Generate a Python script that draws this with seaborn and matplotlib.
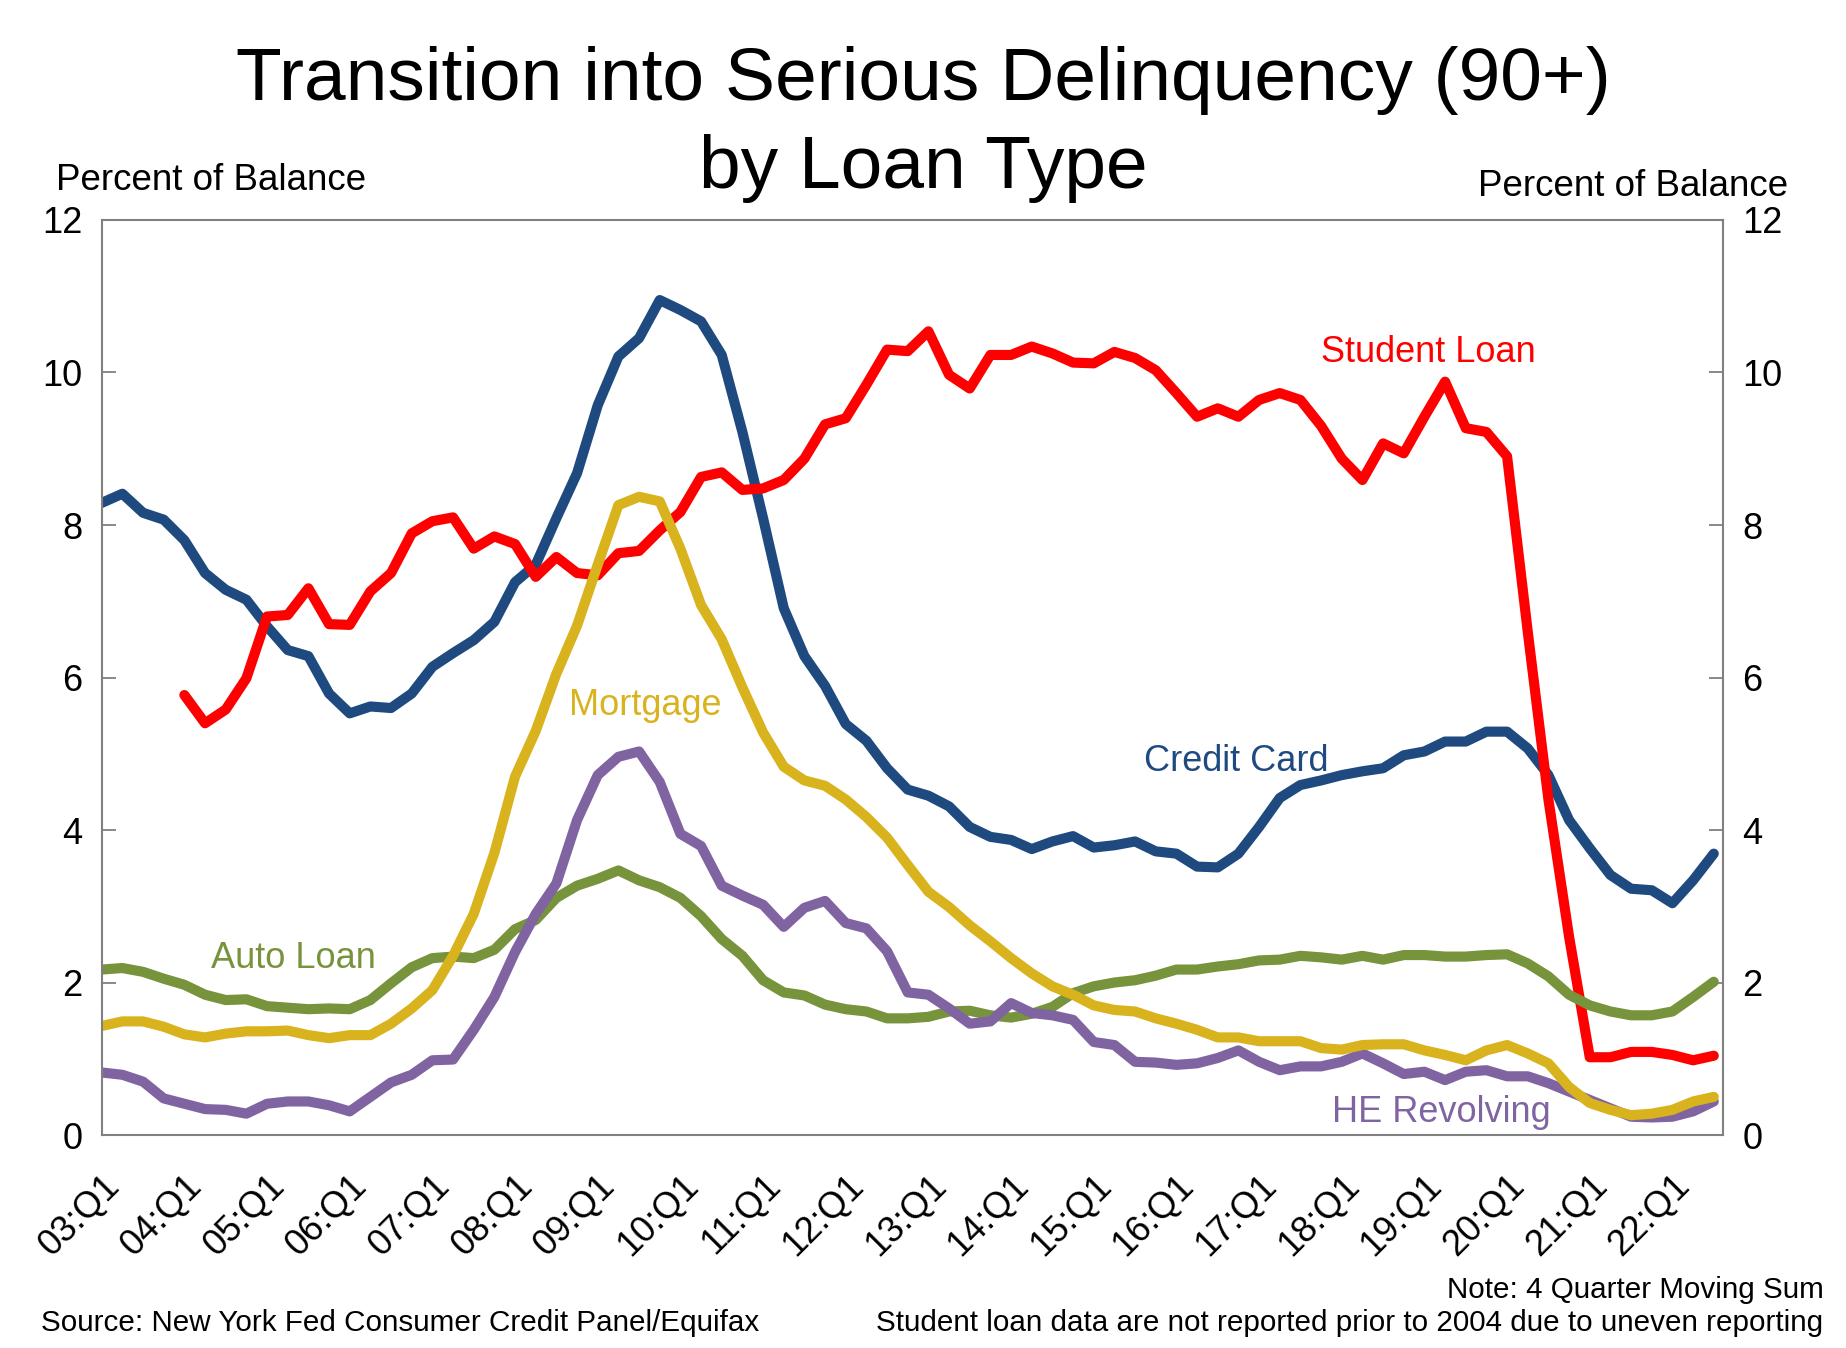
import matplotlib
matplotlib.use("Agg")
import matplotlib.pyplot as plt
import numpy as np
import pandas as pd
import seaborn as sns

# quarters 03:Q1 .. 22:Q3
quarters = [f"{y:02d}:Q{q}" for y in range(3, 23) for q in range(1, 5)][:79]

credit_card = [8.29, 8.41, 8.16, 8.07, 7.80, 7.37, 7.15, 7.02, 6.67, 6.36,
               6.28, 5.79, 5.53, 5.62, 5.60, 5.79, 6.14, 6.32, 6.49, 6.73,
               7.25, 7.48, 8.09, 8.68, 9.57, 10.21, 10.45, 10.95, 10.82, 10.67,
               10.23, 9.22, 8.09, 6.91, 6.28, 5.89, 5.39, 5.17, 4.81, 4.53,
               4.45, 4.31, 4.04, 3.91, 3.87, 3.75, 3.85, 3.92, 3.77, 3.80,
               3.85, 3.72, 3.69, 3.52, 3.51, 3.69, 4.04, 4.42, 4.59, 4.65,
               4.72, 4.77, 4.81, 4.98, 5.03, 5.16, 5.16, 5.29, 5.29, 5.07,
               4.72, 4.13, 3.76, 3.41, 3.23, 3.21, 3.04, 3.34, 3.69]

student_loan = [np.nan, np.nan, np.nan, np.nan, 5.77, 5.40, 5.58, 5.99, 6.80, 6.82,
                7.17, 6.70, 6.69, 7.13, 7.37, 7.89, 8.05, 8.10, 7.69, 7.85,
                7.75, 7.32, 7.58, 7.37, 7.34, 7.63, 7.66, 7.93, 8.17, 8.63,
                8.69, 8.46, 8.48, 8.59, 8.87, 9.32, 9.40, 9.84, 10.30, 10.28,
                10.54, 9.97, 9.79, 10.23, 10.23, 10.34, 10.25, 10.13, 10.12, 10.27,
                10.19, 10.03, 9.73, 9.42, 9.53, 9.42, 9.64, 9.73, 9.64, 9.30,
                8.87, 8.59, 9.07, 8.94, 9.42, 9.88, 9.27, 9.22, 8.90, 6.60,
                4.40, 2.60, 1.02, 1.02, 1.09, 1.09, 1.05, 0.98, 1.04]

mortgage = [1.43, 1.49, 1.49, 1.42, 1.32, 1.28, 1.33, 1.36, 1.36, 1.37,
            1.31, 1.27, 1.31, 1.31, 1.46, 1.66, 1.90, 2.35, 2.90, 3.70,
            4.70, 5.30, 6.05, 6.68, 7.48, 8.26, 8.37, 8.31, 7.69, 6.95,
            6.50, 5.87, 5.28, 4.83, 4.65, 4.58, 4.40, 4.17, 3.90, 3.54,
            3.19, 2.99, 2.75, 2.54, 2.32, 2.12, 1.95, 1.84, 1.70, 1.64,
            1.62, 1.53, 1.46, 1.38, 1.28, 1.28, 1.23, 1.23, 1.23, 1.14,
            1.12, 1.18, 1.19, 1.19, 1.11, 1.05, 0.98, 1.11, 1.18, 1.07,
            0.94, 0.63, 0.42, 0.33, 0.26, 0.28, 0.33, 0.44, 0.50]

he_revolving = [0.82, 0.79, 0.70, 0.48, 0.41, 0.34, 0.33, 0.28, 0.41, 0.44,
                0.44, 0.39, 0.31, 0.50, 0.69, 0.79, 0.98, 0.99, 1.38, 1.81,
                2.40, 2.90, 3.30, 4.13, 4.72, 4.96, 5.03, 4.63, 3.95, 3.79,
                3.27, 3.14, 3.02, 2.73, 2.98, 3.07, 2.78, 2.71, 2.41, 1.87,
                1.84, 1.66, 1.46, 1.49, 1.73, 1.60, 1.57, 1.51, 1.22, 1.18,
                0.96, 0.95, 0.92, 0.94, 1.01, 1.11, 0.96, 0.85, 0.90, 0.90,
                0.96, 1.07, 0.94, 0.80, 0.83, 0.72, 0.83, 0.85, 0.77, 0.77,
                0.68, 0.57, 0.46, 0.35, 0.24, 0.23, 0.24, 0.31, 0.44]

auto_loan = [2.17, 2.19, 2.14, 2.05, 1.97, 1.84, 1.77, 1.78, 1.69, 1.67,
             1.65, 1.66, 1.65, 1.77, 1.99, 2.20, 2.32, 2.34, 2.32, 2.43,
             2.70, 2.82, 3.11, 3.27, 3.36, 3.47, 3.34, 3.25, 3.11, 2.87,
             2.57, 2.35, 2.03, 1.87, 1.83, 1.71, 1.65, 1.62, 1.53, 1.53,
             1.55, 1.62, 1.63, 1.57, 1.54, 1.59, 1.68, 1.86, 1.95, 2.00,
             2.03, 2.09, 2.17, 2.17, 2.21, 2.24, 2.29, 2.30, 2.35, 2.33,
             2.30, 2.35, 2.30, 2.36, 2.36, 2.34, 2.34, 2.36, 2.37, 2.25,
             2.08, 1.84, 1.70, 1.62, 1.57, 1.57, 1.62, 1.81, 2.01]

series = {
    "Credit Card": credit_card,
    "Student Loan": student_loan,
    "Auto Loan": auto_loan,
    "HE Revolving": he_revolving,
    "Mortgage": mortgage,
}
colors = {
    "Credit Card": "#1F4A80",
    "Student Loan": "#FF0000",
    "Auto Loan": "#77933C",
    "HE Revolving": "#8064A2",
    "Mortgage": "#D9B31E",
}

df = pd.DataFrame(series)
df["idx"] = np.arange(len(quarters))
long = df.melt(id_vars="idx", var_name="loan", value_name="pct").dropna()

sns.set_style("white")
plt.rcParams["font.family"] = ["Liberation Sans", "DejaVu Sans"]
plt.rcParams["text.color"] = "black"
plt.rcParams["xtick.labelcolor"] = "black"
plt.rcParams["ytick.labelcolor"] = "black"

fig = plt.figure(figsize=(18.46, 13.48), dpi=100)
ax = fig.add_axes([0.0551, 0.158, 0.8783, 0.6788])

sns.lineplot(data=long, x="idx", y="pct", hue="loan", hue_order=list(series),
             palette=colors, linewidth=7.3, legend=False, ax=ax, sort=True)

ax.set_xlim(0, 78.45)
ax.set_ylim(0, 12)
ax.set_xlabel("")
ax.set_ylabel("")

ax.set_yticks(range(0, 13, 2))
ax.set_xticks(range(0, 79, 4))
ax.set_xticklabels(quarters[::4], rotation=45, ha="right", va="top",
                   rotation_mode="anchor")
ax.set_xticks(range(79), minor=True)
ax.tick_params(axis="x", which="both", direction="in", length=10, width=1.3,
               color="#808080", labelsize=26, pad=24)
ax.tick_params(axis="y", direction="in", length=10, width=1.3, color="#808080",
               labelsize=26, left=True, right=True, labelleft=True,
               labelright=True, pad=14)
for s in ax.spines.values():
    s.set_color("#808080")
    s.set_linewidth(1.5)

# series labels
ax.text(64.2, 10.26, "Student Loan", color="#FF0000", fontsize=26, ha="center", va="center")
ax.text(54.9, 4.9, "Credit Card", color="#1F4A80", fontsize=26, ha="center", va="center")
ax.text(26.3, 5.63, "Mortgage", color="#D9B31E", fontsize=26, ha="center", va="center")
ax.text(9.3, 2.32, "Auto Loan", color="#77933C", fontsize=26, ha="center", va="center")
ax.text(64.8, 0.3, "HE Revolving", color="#8064A2", fontsize=26, ha="center", va="center")

fig.text(0.5, 0.94, "Transition into Serious Delinquency (90+)", fontsize=54,
         ha="center", va="center")
fig.text(0.5, 0.875, "by Loan Type", fontsize=54, ha="center", va="center")
fig.text(0.0303, 0.866, "Percent of Balance", fontsize=26.5, ha="left", va="center")
fig.text(0.9686, 0.862, "Percent of Balance", fontsize=26.5, ha="right", va="center")

fig.text(0.0222, 0.0185, "Source: New York Fed Consumer Credit Panel/Equifax",
         fontsize=21.3, ha="left", va="center")
fig.text(0.9878, 0.043, "Note: 4 Quarter Moving Sum", fontsize=21.3, ha="right", va="center")
fig.text(0.9878, 0.0185,
         "Student loan data are not reported prior to 2004 due to uneven reporting",
         fontsize=21.3, ha="right", va="center")

fig.savefig("out.png", dpi=100)
